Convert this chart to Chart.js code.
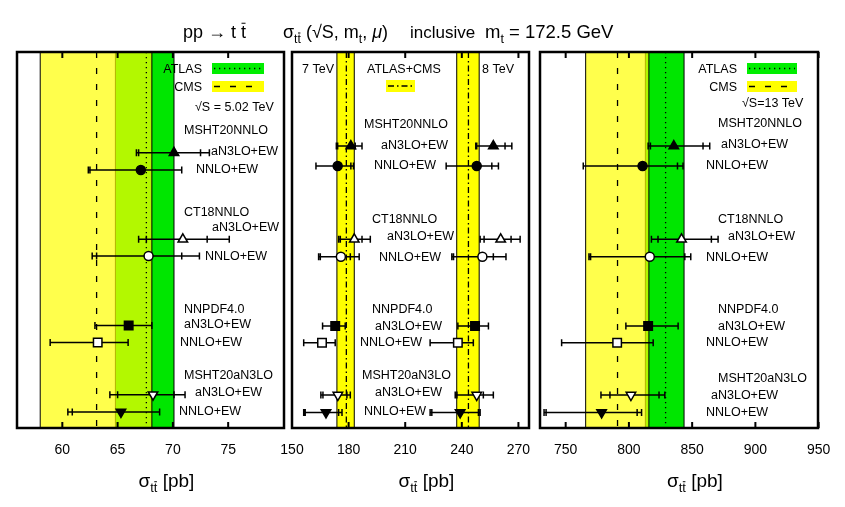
<!DOCTYPE html>
<html>
<head>
<meta charset="utf-8">
<script src="https://cdn.jsdelivr.net/npm/chart.js@4"></script>
<style>
  body { margin: 0; background: #fff; width: 845px; height: 507px; position: relative; overflow: hidden; }
  canvas { position: absolute; left: 0; top: 0; }
</style>
</head>
<body>
<canvas id="c1" width="845" height="507"></canvas>
<canvas id="c2" width="845" height="507"></canvas>
<canvas id="c3" width="845" height="507"></canvas>
<script>
const FONT = '"Liberation Sans", Arial, Helvetica, sans-serif';

// row names (same in every panel)
const groupNames = ['MSHT20NNLO', 'CT18NNLO', 'NNPDF4.0', 'MSHT20aN3LO'];
const orderNames = ['aN3LO+EW', 'NNLO+EW'];

// vertical row positions (0 = top of frame, 22 = bottom)
const rows502 = [5.9, 6.9, 10.96, 11.94, 16.0, 17.0, 20.05, 21.06];
const rows = [5.5, 6.67, 10.96, 11.98, 16.03, 17.01, 20.07, 21.09];

// markers per row
const markerStyle = ['triangle', 'circle', 'triangle', 'circle', 'rect', 'rect', 'triangle', 'triangle'];
const markerRot = [0, 0, 0, 0, 0, 0, 180, 180];
const markerFill = [true, true, false, false, true, false, false, true];

// 5.02 TeV [pb]: central, outer low, inner low, inner high, outer high
const mid502 = [70.1, 67.1, 70.9, 67.8, 66.0, 63.2, 68.2, 65.3];
const outLo502 = [66.7, 62.35, 66.9, 62.7, 62.95, 58.9, 64.3, 60.5];
const inLo502 = [66.9, 62.5, 67.6, 63.1, 62.95, 58.9, 65.0, 60.9];
const inHi502 = [72.5, 70.8, 73.1, 70.8, 68.1, 65.95, 70.1, 68.8];
const outHi502 = [73.3, 70.8, 75.1, 72.4, 68.1, 65.95, 71.1, 68.8];

// 7 TeV
const mid7 = [181.2, 174.2, 183.0, 175.9, 172.9, 165.9, 174.3, 168.0];
const outLo7 = [173.5, 162.7, 174.7, 164.1, 166.2, 156.2, 165.3, 156.2];
const inLo7 = [174.2, 162.7, 175.6, 165.0, 166.2, 156.2, 166.4, 157.0];
const inHi7 = [183.5, 181.2, 187.1, 180.9, 178.2, 172.9, 179.1, 174.7];
const outHi7 = [187.1, 182.6, 191.5, 185.6, 178.2, 172.9, 180.9, 176.5];

// 8 TeV
const mid8 = [256.7, 247.9, 260.6, 250.9, 247.0, 237.9, 247.9, 239.1];
const outLo8 = [247.4, 231.7, 249.7, 234.7, 237.9, 223.2, 236.5, 223.2];
const inLo8 = [247.9, 231.7, 251.8, 235.6, 237.9, 223.2, 237.4, 224.1];
const inHi8 = [262.9, 255.9, 266.1, 256.7, 254.1, 246.1, 251.4, 248.8];
const outHi8 = [266.5, 259.4, 270.9, 263.4, 254.1, 246.1, 256.7, 249.7];

// 13 TeV
const mid13 = [835.5, 810.8, 841.6, 816.5, 815.2, 790.7, 801.6, 778.4];
const outLo13 = [815.2, 763.9, 817.8, 768.4, 797.6, 746.8, 777.9, 732.9];
const inLo13 = [817.0, 763.9, 823.0, 769.7, 797.6, 746.8, 785.0, 734.5];
const inHi13 = [858.6, 838.4, 865.2, 844.2, 838.9, 819.2, 823.8, 806.5];
const outHi13 = [863.9, 842.8, 870.5, 848.9, 838.9, 819.2, 828.4, 810.0];

// measurements: low, central, high [pb]
const atlas502 = [64.8, 67.6, 70.1];
const cms502 = [58.0, 63.1, 68.1];
const comb7 = [173.8, 178.8, 183.0];
const comb8 = [237.3, 243.5, 249.2];
const atlas13 = [813.0, 829.0, 843.6];
const cms13 = [765.8, 791.0, 815.8];

// axes
const range502 = [55.9, 80.05];
const range78 = [150, 275.6];
const range13 = [729.7, 949.5];
const ticks502 = [60, 65, 70, 75];
const ticks78 = [150, 180, 210, 240, 270];
const ticks13 = [750, 800, 850, 900, 950];

const GREEN = '#00e600';
const CMSYELLOW = 'rgba(255,255,0,0.7)';
const DOT = [1.3, 3.7];
const DASH = [6, 10];
const DASHDOT = [6, 3, 1.5, 3];

function rich(ctx, parts, x, y, size) {
  ctx.textBaseline = 'alphabetic';
  ctx.textAlign = 'left';
  parts.forEach(p => {
    const fs = p.sub ? size * 0.68 : size;
    ctx.font = (p.it ? 'italic ' : '') + fs + 'px ' + FONT;
    const dy = p.sub ? size * 0.28 : 0;
    ctx.fillText(p.t, x, y + dy);
    const w = ctx.measureText(p.t).width;
    if (p.bar) {
      ctx.lineWidth = 1;
      ctx.beginPath();
      ctx.moveTo(x + 0.5, y + dy - fs * 0.82);
      ctx.lineTo(x + w - 0.5, y + dy - fs * 0.82);
      ctx.stroke();
    }
    x += w;
  });
  return x;
}

const sigmaParts = [{t: 'σ'}, {t: 't', sub: true}, {t: 't', sub: true, bar: true}, {t: ' [pb]'}];

function labelTexts() {
  const out = [];
  groupNames.forEach(g => { out.push(g, orderNames[0], orderNames[1]); });
  return out;
}

function deco(cfg) {
  return {
    id: 'deco',
    beforeDatasetsDraw(chart) {
      const {ctx, chartArea: a, scales: {x, y}} = chart;
      ctx.save();
      ctx.beginPath(); ctx.rect(a.left, a.top, a.width, a.height); ctx.clip();
      cfg.bands.forEach(b => {
        const x0 = x.getPixelForValue(b.v[0]), x1 = x.getPixelForValue(b.v[2]);
        ctx.fillStyle = b.color;
        ctx.fillRect(x0, a.top, x1 - x0, a.height);
        ctx.strokeStyle = '#000'; ctx.lineWidth = 1; ctx.setLineDash([]);
        [x0, x1].forEach(px => {
          ctx.beginPath(); ctx.moveTo(px, a.top); ctx.lineTo(px, a.bottom); ctx.stroke();
        });
      });
      cfg.bands.forEach(b => {
        const px = x.getPixelForValue(b.v[1]);
        ctx.strokeStyle = '#000'; ctx.lineWidth = 1.3; ctx.setLineDash(b.dash);
        ctx.beginPath(); ctx.moveTo(px, a.top); ctx.lineTo(px, a.bottom); ctx.stroke();
      });
      ctx.setLineDash([]);
      // error bars
      cfg.series.forEach(s => {
        s.mid.forEach((m, i) => {
          const py = y.getPixelForValue(cfg.rows[i]);
          const p = v => x.getPixelForValue(v);
          ctx.strokeStyle = '#000'; ctx.lineWidth = 1.5;
          ctx.beginPath();
          ctx.moveTo(p(s.outLo[i]), py); ctx.lineTo(p(s.outHi[i]), py);
          [s.outLo[i], s.inLo[i], s.inHi[i], s.outHi[i]].forEach(v => {
            ctx.moveTo(p(v), py - 3.5); ctx.lineTo(p(v), py + 3.5);
          });
          ctx.stroke();
        });
      });
      ctx.restore();
    },
    afterDraw(chart) {
      const {ctx, chartArea: a, scales: {x}} = chart;
      ctx.save();
      ctx.fillStyle = '#000'; ctx.strokeStyle = '#000';
      // inward ticks
      ctx.lineWidth = 2;
      cfg.ticks.forEach(v => {
        const px = x.getPixelForValue(v);
        ctx.beginPath();
        ctx.moveTo(px, a.top); ctx.lineTo(px, a.top + 6);
        ctx.moveTo(px, a.bottom); ctx.lineTo(px, a.bottom - 6);
        ctx.stroke();
      });
      // frame
      ctx.lineWidth = 2.5;
      ctx.strokeRect(a.left, a.top, a.width, a.height);
      // row labels
      ctx.font = '12.5px ' + FONT;
      ctx.textBaseline = 'middle'; ctx.textAlign = 'left';
      const texts = labelTexts();
      cfg.labelPos.forEach((pos, i) => ctx.fillText(texts[i], pos[0], pos[1]));
      (cfg.extraText || []).forEach(t => ctx.fillText(t[0], t[1], t[2]));
      // legend
      (cfg.legend || []).forEach(l => {
        ctx.font = '12.5px ' + FONT;
        ctx.textAlign = 'right'; ctx.textBaseline = 'middle';
        if (l.text) ctx.fillText(l.text, l.tx, (l.box[1] + l.box[3]) / 2 + 1);
        ctx.fillStyle = l.color;
        ctx.fillRect(l.box[0], l.box[1], l.box[2] - l.box[0], l.box[3] - l.box[1]);
        ctx.fillStyle = '#000';
        ctx.lineWidth = 1.3; ctx.setLineDash(l.dash);
        const my = (l.box[1] + l.box[3]) / 2;
        ctx.beginPath(); ctx.moveTo(l.box[0] + 2, my); ctx.lineTo(l.box[2] - 2, my); ctx.stroke();
        ctx.setLineDash([]);
      });
      ctx.textAlign = 'left';
      // axis title
      rich(ctx, sigmaParts, (a.left + a.right) / 2 - 12, 487, 19);
      if (cfg.mainTitle) {
        rich(ctx, [{t: 'pp → t '}, {t: 't', bar: true}], 183, 38, 18);
        rich(ctx, [{t: 'σ'}, {t: 't', sub: true}, {t: 't', sub: true, bar: true},
          {t: ' (√S, m'}, {t: 't', sub: true}, {t: ', '}, {t: 'μ', it: true}, {t: ')'}], 283, 38, 18);
        rich(ctx, [{t: 'inclusive'}], 410, 38, 17);
        rich(ctx, [{t: 'm'}, {t: 't', sub: true}, {t: ' = 172.5 GeV'}], 485, 38, 18.5);
      }
      ctx.restore();
    }
  };
}

function pointsDataset(mid, rowPos) {
  return {
    data: mid.map((v, i) => ({x: v, y: rowPos[i]})),
    showLine: false,
    pointStyle: markerStyle,
    pointRotation: markerRot,
    pointRadius: markerStyle.map(s => s === 'circle' ? 4.5 : s === 'rect' ? 6 : 5.5),
    pointBackgroundColor: markerFill.map(f => f ? '#000' : '#fff'),
    pointBorderColor: '#000',
    pointBorderWidth: 1.5
  };
}

function makeChart(id, left, right, range, tickVals, datasets, cfg) {
  cfg.ticks = tickVals;
  return new Chart(document.getElementById(id), {
    type: 'scatter',
    data: {datasets: datasets},
    options: {
      responsive: false,
      animation: false,
      layout: {padding: {left: left, right: 845 - right, top: 52, bottom: 0}},
      plugins: {legend: {display: false}, tooltip: {enabled: false}},
      scales: {
        x: {
          type: 'linear', position: 'bottom', min: range[0], max: range[1],
          afterBuildTicks: s => { s.ticks = tickVals.map(v => ({value: v})); },
          afterFit: s => { s.height = 79; },
          grid: {display: false, drawTicks: false},
          border: {display: false},
          ticks: {font: {family: FONT, size: 14}, color: '#000', padding: 14,
            maxRotation: 0, autoSkip: false, callback: v => String(v)}
        },
        y: {type: 'linear', min: 0, max: 22, reverse: true, display: false}
      }
    },
    plugins: [deco(cfg)]
  });
}

// 5.02 TeV
makeChart('c1', 17, 284, range502, ticks502, [pointsDataset(mid502, rows502)], {
  rows: rows502,
  bands: [{v: atlas502, color: GREEN, dash: DOT}, {v: cms502, color: CMSYELLOW, dash: DASH}],
  series: [{mid: mid502, outLo: outLo502, inLo: inLo502, inHi: inHi502, outHi: outHi502}],
  labelPos: [[184, 131], [211, 152], [196, 170], [184, 213], [212, 228], [205, 257],
             [184, 310], [184, 325], [180, 343], [184, 376], [195, 393], [179, 412]],
  extraText: [['√S = 5.02 TeV', 195, 108]],
  legend: [
    {text: 'ATLAS', tx: 202, box: [212, 63, 264, 74], color: '#00ee00', dash: DOT},
    {text: 'CMS', tx: 202, box: [212, 81, 264, 92], color: '#ffff00', dash: DASH}
  ],
  mainTitle: true
});

// 7 and 8 TeV
makeChart('c2', 292, 529, range78, ticks78,
  [pointsDataset(mid7, rows), pointsDataset(mid8, rows)], {
  rows: rows,
  bands: [{v: comb7, color: '#ffff00', dash: DASHDOT}, {v: comb8, color: '#ffff00', dash: DASHDOT}],
  series: [
    {mid: mid7, outLo: outLo7, inLo: inLo7, inHi: inHi7, outHi: outHi7},
    {mid: mid8, outLo: outLo8, inLo: inLo8, inHi: inHi8, outHi: outHi8}
  ],
  labelPos: [[364, 125], [381, 146], [374, 166], [372, 220], [387, 237], [379, 258],
             [372, 310], [375, 327], [360, 343], [362, 376], [375, 393], [364, 412]],
  extraText: [['7 TeV', 302, 70], ['ATLAS+CMS', 367, 70], ['8 TeV', 482, 70]],
  legend: [{text: '', tx: 0, box: [386, 80, 415, 92], color: '#ffff00', dash: DASHDOT}]
});

// 13 TeV
makeChart('c3', 540, 818, range13, ticks13, [pointsDataset(mid13, rows)], {
  rows: rows,
  bands: [{v: atlas13, color: GREEN, dash: DOT}, {v: cms13, color: CMSYELLOW, dash: DASH}],
  series: [{mid: mid13, outLo: outLo13, inLo: inLo13, inHi: inHi13, outHi: outHi13}],
  labelPos: [[718, 124], [721, 145], [706, 166], [718, 220], [728, 237], [706, 258],
             [718, 310], [718, 327], [706, 343], [718, 379], [711, 396], [706, 413]],
  extraText: [['√S=13 TeV', 742, 104]],
  legend: [
    {text: 'ATLAS', tx: 737, box: [747, 63, 797, 74], color: '#00ee00', dash: DOT},
    {text: 'CMS', tx: 737, box: [747, 81, 797, 92], color: '#ffff00', dash: DASH}
  ]
});
</script>
</body>
</html>
